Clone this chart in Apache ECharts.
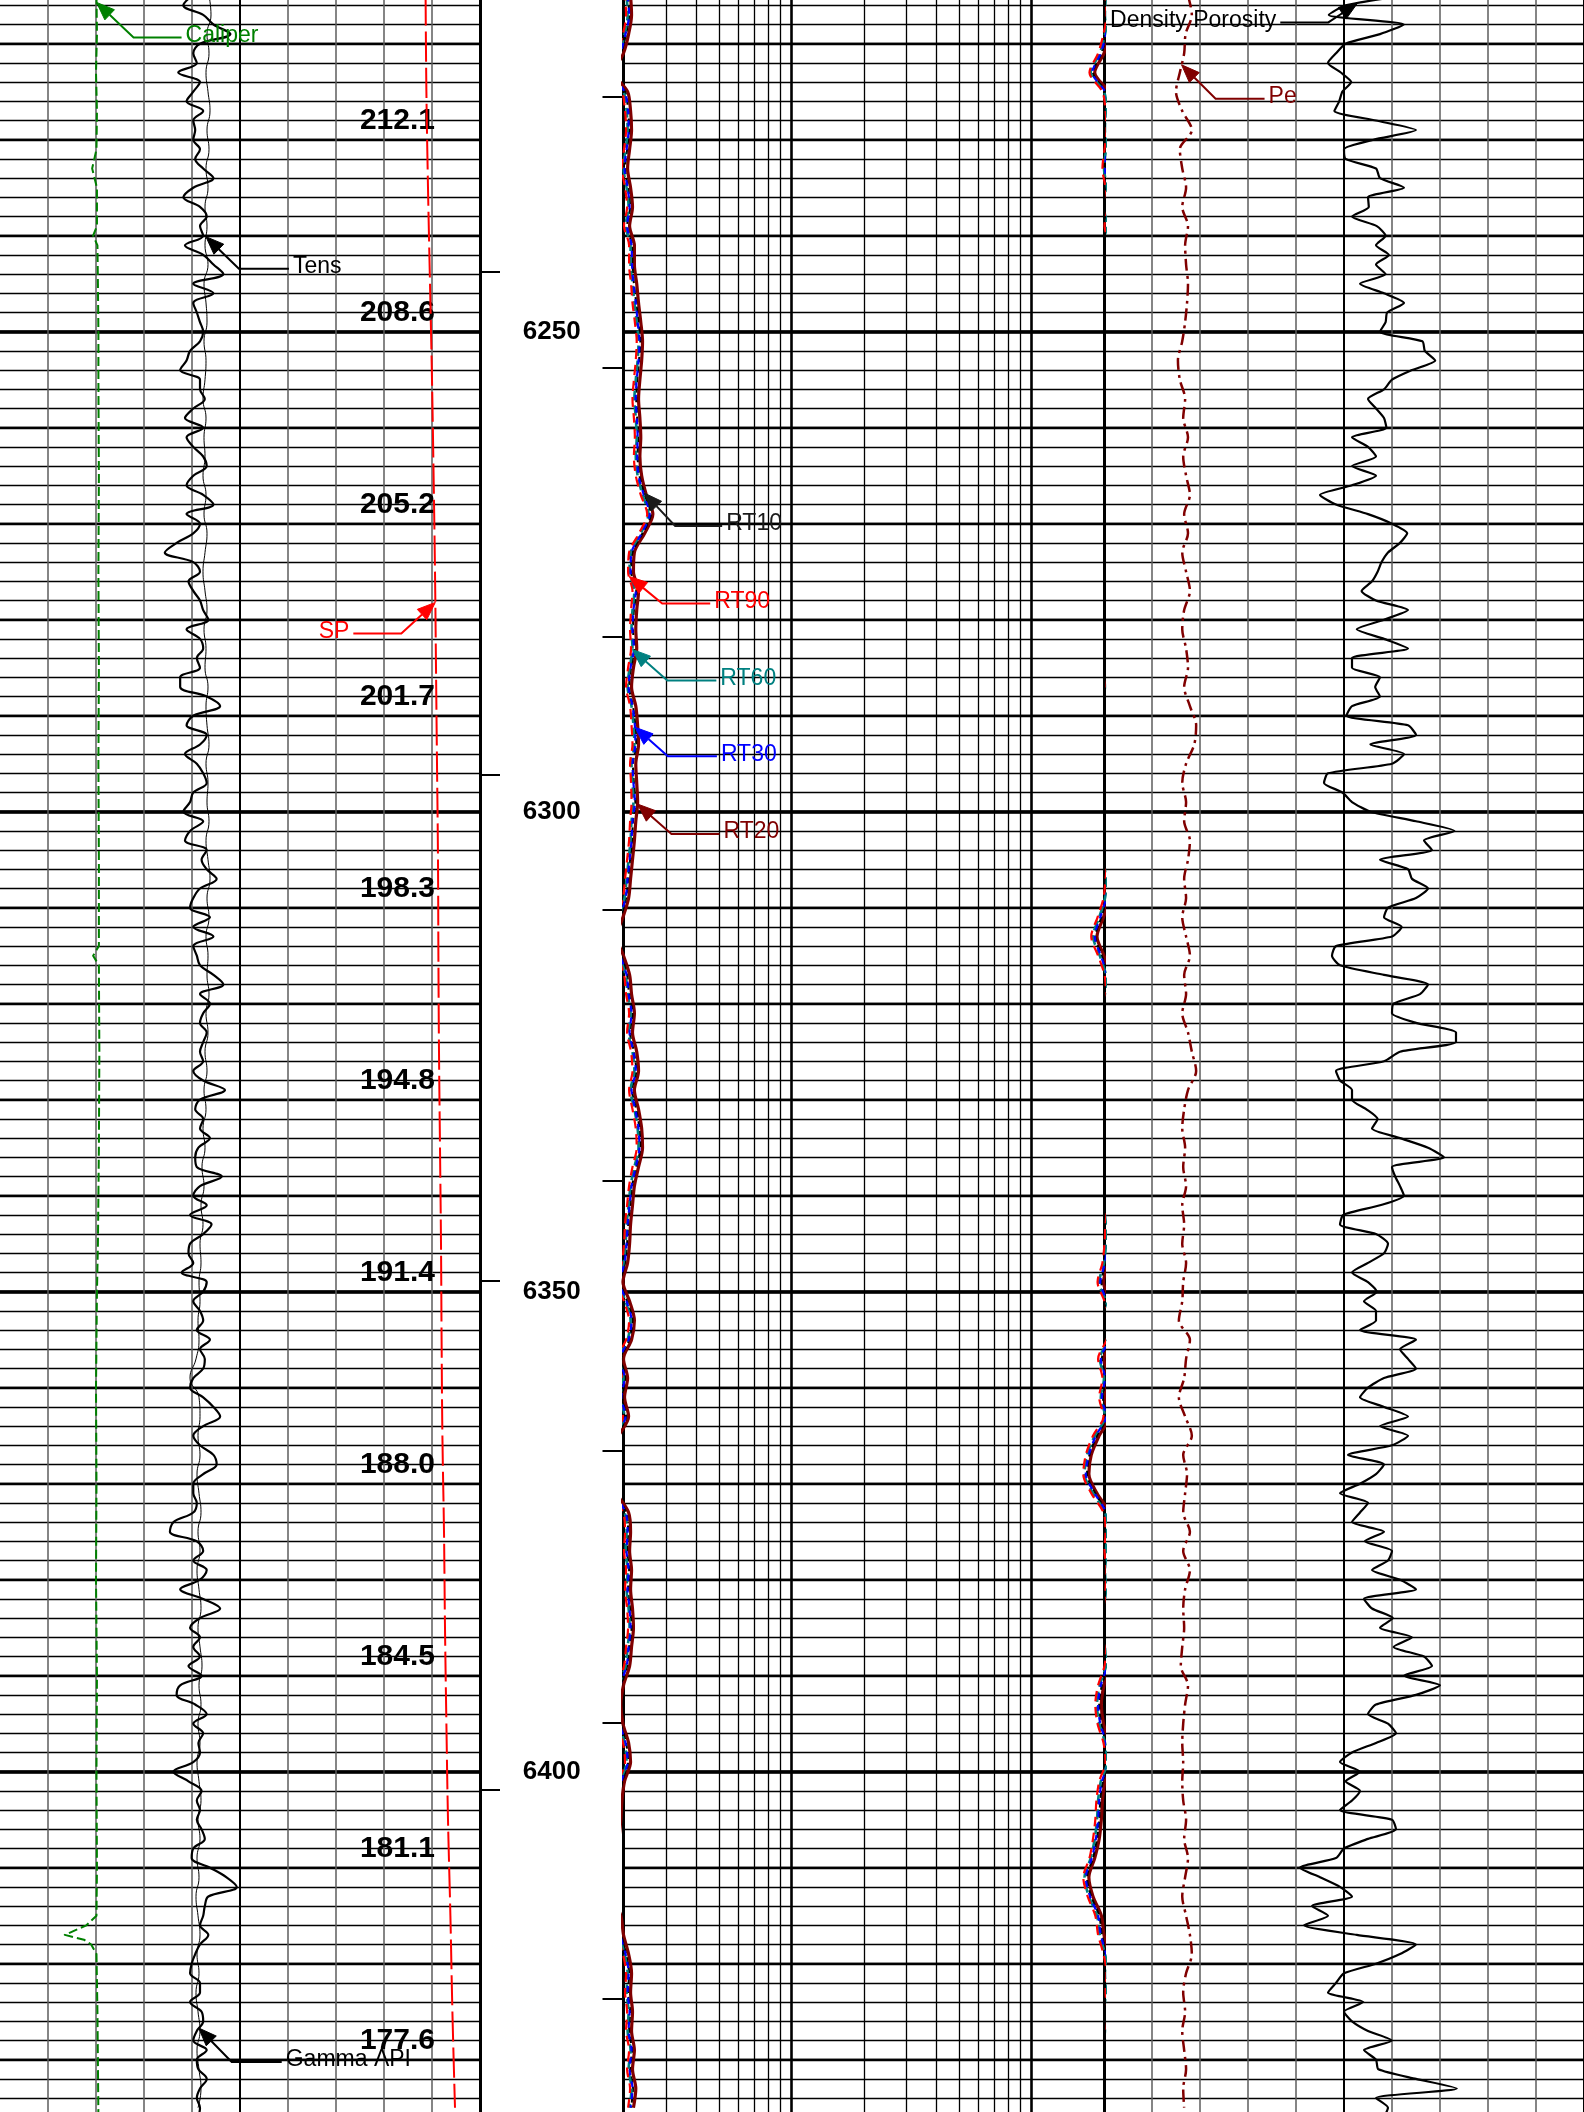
<!DOCTYPE html>
<html>
<head>
<meta charset="utf-8">
<title>Well log 6215–6435 ft</title>
<script src="https://cdn.jsdelivr.net/npm/echarts@6.0.0/dist/echarts.min.js"></script>
<style>
  html, body { margin: 0; padding: 0; background: #fff; }
  #chart { width: 1584px; height: 2112px; }
</style>
</head>
<body>
<div id="chart"></div>
<script>
// ---------------------------------------------------------------------------
// Log data (depth in ft)
// ---------------------------------------------------------------------------

// 1-ft sampled curves: 6215 ... 6436
const depth1 = [];
for (let d = 6215; d <= 6436; d++) depth1.push(d);

// 2-ft sampled curves: 6215 ... 6435
const depth2 = [];
for (let d = 6215; d <= 6435; d += 2) depth2.push(d);

// Gamma ray, API (track 1, 0–150)
const gammaApi = [
  60.0, 57.3, 63.5, 66.7, 72.0, 62.5, 60.4, 61.5, 55.7, 62.5,
  60.4, 58.3, 63.5, 60.4, 61.0, 60.4, 62.5, 61.0, 63.5, 66.7,
  60.4, 57.3, 62.5, 64.6, 62.5, 63.5, 57.8, 63.5, 66.7, 69.8,
  60.4, 66.7, 60.4, 61.5, 62.5, 63.5, 62.5, 59.4, 58.3, 56.3,
  62.5, 62.5, 64.0, 60.4, 57.8, 63.5, 58.3, 60.4, 63.5, 64.6,
  60.4, 58.3, 63.5, 66.7, 58.3, 62.5, 60.4, 55.2, 51.5, 60.4,
  62.5, 58.9, 60.4, 62.5, 63.5, 65.1, 58.3, 62.5, 63.5, 61.5,
  62.5, 56.3, 56.3, 64.6, 68.8, 60.4, 58.3, 64.6, 62.5, 57.8,
  61.5, 63.5, 64.6, 60.4, 59.4, 57.3, 63.5, 59.4, 57.8, 64.6,
  63.0, 64.6, 67.7, 62.5, 60.4, 59.4, 65.6, 60.4, 66.7, 60.4,
  61.5, 62.5, 66.7, 69.8, 62.5, 65.6, 63.5, 62.5, 64.6, 63.5,
  62.5, 63.5, 60.4, 63.5, 70.3, 62.5, 61.0, 63.5, 62.5, 65.6,
  62.0, 61.0, 61.5, 69.3, 62.5, 60.4, 64.6, 59.4, 66.1, 63.5,
  59.4, 58.9, 60.4, 56.8, 64.6, 63.5, 60.4, 62.5, 63.5, 61.5,
  65.6, 62.5, 64.0, 63.5, 60.4, 59.4, 63.5, 66.7, 68.8, 63.5,
  60.4, 62.5, 66.7, 67.7, 63.5, 60.4, 60.4, 61.5, 60.4, 54.2,
  53.1, 61.5, 63.5, 60.4, 64.6, 62.5, 56.3, 63.5, 68.8, 62.5,
  59.4, 62.5, 60.4, 62.5, 58.9, 63.0, 56.3, 55.2, 61.0, 64.6,
  60.4, 63.5, 62.0, 62.5, 60.4, 54.2, 58.9, 63.0, 61.5, 62.5,
  61.5, 63.0, 64.0, 60.4, 59.9, 65.6, 70.8, 74.0, 65.1, 64.0,
  63.5, 62.5, 65.1, 62.5, 61.0, 59.9, 59.4, 62.5, 62.5, 59.4,
  63.0, 63.5, 61.5, 60.4, 64.6, 61.5, 62.0, 64.6, 62.5, 61.5,
  62.5, 62.0
];

// Density porosity, v/v (track 3, 0.45 … -0.15)
const densityPorosity = [
  0.075, 0.148, 0.169, 0.075, 0.105, 0.148, 0.160, 0.170, 0.154, 0.141,
  0.152, 0.156, 0.162, 0.110, 0.060, 0.113, 0.150, 0.148, 0.110, 0.105,
  0.075, 0.120, 0.119, 0.140, 0.109, 0.098, 0.110, 0.094, 0.110, 0.098,
  0.130, 0.100, 0.075, 0.096, 0.098, 0.105, 0.052, 0.049, 0.036, 0.065,
  0.090, 0.100, 0.120, 0.110, 0.100, 0.097, 0.140, 0.120, 0.110, 0.140,
  0.110, 0.140, 0.180, 0.160, 0.120, 0.090, 0.071, 0.080, 0.095, 0.103,
  0.108, 0.115, 0.128, 0.110, 0.070, 0.100, 0.134, 0.100, 0.070, 0.140,
  0.140, 0.105, 0.111, 0.105, 0.140, 0.147, 0.070, 0.060, 0.117, 0.075,
  0.090, 0.170, 0.175, 0.152, 0.140, 0.117, 0.060, 0.012, 0.050, 0.040,
  0.105, 0.070, 0.065, 0.045, 0.060, 0.095, 0.100, 0.078, 0.090, 0.160,
  0.165, 0.155, 0.100, 0.045, 0.055, 0.088, 0.090, 0.060, 0.010, 0.010,
  0.080, 0.100, 0.160, 0.155, 0.140, 0.140, 0.122, 0.108, 0.115, 0.080,
  0.045, 0.025, 0.090, 0.086, 0.080, 0.075, 0.105, 0.151, 0.155, 0.110,
  0.095, 0.100, 0.120, 0.140, 0.120, 0.109, 0.125, 0.110, 0.110, 0.130,
  0.060, 0.080, 0.070, 0.060, 0.100, 0.120, 0.130, 0.100, 0.070, 0.105,
  0.070, 0.090, 0.145, 0.100, 0.110, 0.130, 0.155, 0.120, 0.130, 0.140,
  0.100, 0.124, 0.090, 0.095, 0.115, 0.080, 0.060, 0.125, 0.115, 0.089,
  0.105, 0.065, 0.088, 0.050, 0.040, 0.075, 0.030, 0.060, 0.110, 0.120,
  0.095, 0.085, 0.110, 0.140, 0.155, 0.130, 0.148, 0.130, 0.140, 0.155,
  0.090, 0.085, 0.120, 0.150, 0.160, 0.205, 0.180, 0.155, 0.140, 0.190,
  0.170, 0.200, 0.134, 0.060, 0.080, 0.110, 0.150, 0.160, 0.170, 0.126,
  0.150, 0.140, 0.120, 0.090, 0.125, 0.110, 0.107, 0.060, 0.009, 0.110,
  0.095, 0.100
];

// Cable tension, lb (track 1, 0–12000)
const tensLb = [
  5225, 5275, 5175, 5225, 5150, 5200, 5250, 5175, 5225, 5150,
  5200, 5125, 5175, 5125, 5200, 5100, 5150, 5175, 5100, 5150,
  5125, 5075, 5150, 5100, 5125, 5075, 5150, 5100, 5175, 5125,
  5075, 5125, 5175, 5100, 5150, 5125, 5200, 5150, 5175, 5225,
  5150, 5200, 5175, 5225, 5150, 5200, 5250, 5175, 5225, 5150,
  5200, 5175, 5225, 5150, 5200, 5125, 5175, 5100, 5150, 5075,
  5125, 5050, 5100, 5025, 5075, 5000, 5025, 4975, 5000, 4950,
  4975, 4900, 4750, 4975, 5000, 4950, 5000, 4925, 4975, 5025,
  4950, 5000, 4925, 4975, 5025, 4950, 5000, 5050, 4975, 5025,
  4950, 5000, 4925, 4975, 5025, 4950, 5000, 4925, 4975, 4900,
  4950, 5000, 4925, 4975, 4900, 4950, 5000, 4925, 4975, 5025,
  4950
];

// Photoelectric factor, b/e (track 3, 0–10)
const peBarns = [
  1.75, 1.83, 1.70, 1.67, 1.58, 1.50, 1.63, 1.83, 1.58, 1.63,
  1.71, 1.63, 1.75, 1.69, 1.71, 1.75, 1.73, 1.69, 1.63, 1.54,
  1.58, 1.69, 1.65, 1.75, 1.65, 1.71, 1.79, 1.67, 1.75, 1.63,
  1.71, 1.79, 1.67, 1.63, 1.71, 1.75, 1.67, 1.79, 1.92, 1.88,
  1.71, 1.63, 1.71, 1.67, 1.79, 1.75, 1.67, 1.71, 1.63, 1.71,
  1.79, 1.67, 1.71, 1.63, 1.75, 1.83, 1.92, 1.75, 1.67, 1.63,
  1.69, 1.65, 1.71, 1.63, 1.67, 1.63, 1.71, 1.65, 1.63, 1.56,
  1.79, 1.71, 1.67, 1.56, 1.69, 1.83, 1.65, 1.73, 1.69, 1.65,
  1.79, 1.65, 1.79, 1.69, 1.65, 1.67, 1.63, 1.60, 1.75, 1.69,
  1.65, 1.63, 1.65, 1.63, 1.65, 1.71, 1.67, 1.75, 1.69, 1.63,
  1.71, 1.79, 1.83, 1.71, 1.65, 1.69, 1.63, 1.67, 1.71, 1.65,
  1.67
];

// Array induction resistivities, ohm·m (track 2, log 0.2–20)
const rt10 = [
  0.209, 0.211, 0.205, 0.195, 0.180, 0.203, 0.209, 0.211, 0.207, 0.203,
  0.209, 0.213, 0.207, 0.217, 0.218, 0.221, 0.226, 0.231, 0.235, 0.232,
  0.228, 0.226, 0.228, 0.230, 0.229, 0.233, 0.245, 0.260, 0.240, 0.218,
  0.215, 0.226, 0.221, 0.219, 0.222, 0.215, 0.211, 0.219, 0.224, 0.226,
  0.219, 0.221, 0.224, 0.219, 0.217, 0.213, 0.209, 0.205, 0.195, 0.184,
  0.196, 0.207, 0.211, 0.218, 0.213, 0.221, 0.226, 0.217, 0.226, 0.233,
  0.235, 0.226, 0.217, 0.213, 0.209, 0.207, 0.203, 0.195, 0.207, 0.218,
  0.211, 0.196, 0.203, 0.198, 0.205, 0.187, 0.174, 0.170, 0.184, 0.205,
  0.209, 0.207, 0.211, 0.209, 0.213, 0.216, 0.211, 0.207, 0.196, 0.191,
  0.195, 0.205, 0.209, 0.198, 0.193, 0.191, 0.187, 0.180, 0.170, 0.177,
  0.191, 0.196, 0.205, 0.211, 0.209, 0.213, 0.211, 0.217, 0.213, 0.219,
  0.215
];
const rt20 = [
  0.214, 0.216, 0.210, 0.200, 0.183, 0.208, 0.214, 0.216, 0.212, 0.208,
  0.214, 0.218, 0.212, 0.222, 0.222, 0.227, 0.231, 0.236, 0.240, 0.238,
  0.234, 0.231, 0.234, 0.236, 0.234, 0.238, 0.249, 0.265, 0.245, 0.222,
  0.220, 0.231, 0.227, 0.225, 0.227, 0.220, 0.216, 0.225, 0.229, 0.231,
  0.225, 0.227, 0.229, 0.225, 0.222, 0.218, 0.214, 0.210, 0.199, 0.187,
  0.200, 0.212, 0.216, 0.222, 0.218, 0.227, 0.231, 0.222, 0.231, 0.238,
  0.240, 0.231, 0.222, 0.218, 0.214, 0.212, 0.208, 0.199, 0.212, 0.222,
  0.216, 0.200, 0.208, 0.202, 0.210, 0.191, 0.177, 0.173, 0.187, 0.210,
  0.214, 0.212, 0.216, 0.214, 0.218, 0.220, 0.216, 0.212, 0.200, 0.195,
  0.199, 0.210, 0.214, 0.202, 0.197, 0.195, 0.191, 0.183, 0.173, 0.180,
  0.195, 0.200, 0.210, 0.216, 0.214, 0.218, 0.216, 0.222, 0.218, 0.225,
  0.220
];
const rt30 = [
  0.208, 0.211, 0.204, 0.194, 0.179, 0.202, 0.209, 0.210, 0.206, 0.202,
  0.208, 0.212, 0.207, 0.216, 0.217, 0.220, 0.225, 0.229, 0.233, 0.231,
  0.227, 0.225, 0.227, 0.229, 0.228, 0.231, 0.243, 0.257, 0.238, 0.216,
  0.214, 0.225, 0.220, 0.218, 0.221, 0.214, 0.210, 0.218, 0.223, 0.224,
  0.218, 0.220, 0.223, 0.218, 0.216, 0.212, 0.208, 0.204, 0.193, 0.183,
  0.194, 0.206, 0.210, 0.216, 0.212, 0.220, 0.225, 0.216, 0.224, 0.231,
  0.233, 0.225, 0.216, 0.212, 0.208, 0.206, 0.202, 0.193, 0.206, 0.216,
  0.210, 0.194, 0.202, 0.196, 0.204, 0.185, 0.173, 0.168, 0.183, 0.204,
  0.208, 0.206, 0.210, 0.208, 0.212, 0.214, 0.210, 0.206, 0.194, 0.189,
  0.193, 0.204, 0.208, 0.196, 0.191, 0.189, 0.185, 0.178, 0.168, 0.175,
  0.189, 0.194, 0.204, 0.210, 0.208, 0.212, 0.210, 0.216, 0.212, 0.218,
  0.214
];
const rt60 = [
  0.206, 0.208, 0.202, 0.192, 0.176, 0.200, 0.206, 0.208, 0.204, 0.200,
  0.206, 0.210, 0.204, 0.214, 0.214, 0.218, 0.222, 0.227, 0.231, 0.229,
  0.225, 0.222, 0.225, 0.227, 0.225, 0.229, 0.240, 0.254, 0.236, 0.214,
  0.212, 0.222, 0.218, 0.216, 0.218, 0.212, 0.208, 0.216, 0.220, 0.222,
  0.216, 0.218, 0.220, 0.216, 0.214, 0.210, 0.206, 0.202, 0.191, 0.180,
  0.192, 0.204, 0.208, 0.214, 0.210, 0.218, 0.222, 0.214, 0.222, 0.229,
  0.231, 0.222, 0.214, 0.210, 0.206, 0.204, 0.200, 0.191, 0.204, 0.214,
  0.208, 0.192, 0.200, 0.194, 0.202, 0.183, 0.170, 0.166, 0.180, 0.202,
  0.206, 0.204, 0.208, 0.206, 0.210, 0.212, 0.208, 0.204, 0.192, 0.187,
  0.191, 0.202, 0.206, 0.194, 0.189, 0.187, 0.183, 0.176, 0.166, 0.173,
  0.187, 0.192, 0.202, 0.208, 0.206, 0.210, 0.208, 0.214, 0.210, 0.216,
  0.212
];
const rt90 = [
  0.203, 0.205, 0.199, 0.189, 0.174, 0.197, 0.203, 0.205, 0.201, 0.197,
  0.203, 0.207, 0.201, 0.211, 0.211, 0.215, 0.218, 0.223, 0.227, 0.225,
  0.221, 0.218, 0.221, 0.223, 0.221, 0.225, 0.236, 0.251, 0.232, 0.211,
  0.209, 0.218, 0.215, 0.213, 0.215, 0.209, 0.205, 0.213, 0.216, 0.218,
  0.213, 0.215, 0.216, 0.213, 0.211, 0.207, 0.203, 0.199, 0.188, 0.177,
  0.189, 0.201, 0.205, 0.211, 0.207, 0.215, 0.218, 0.211, 0.218, 0.225,
  0.227, 0.218, 0.211, 0.207, 0.203, 0.201, 0.197, 0.188, 0.201, 0.211,
  0.205, 0.189, 0.197, 0.191, 0.199, 0.180, 0.168, 0.164, 0.177, 0.199,
  0.203, 0.201, 0.205, 0.203, 0.207, 0.209, 0.205, 0.201, 0.189, 0.184,
  0.188, 0.199, 0.203, 0.191, 0.186, 0.184, 0.180, 0.174, 0.164, 0.171,
  0.184, 0.189, 0.199, 0.205, 0.203, 0.207, 0.205, 0.211, 0.207, 0.213,
  0.209
];

// Caliper, in (track 1, 6–16)
const caliperDepth = [6215, 6219, 6223, 6227, 6231, 6233, 6235, 6239, 6240, 6241,
  6245, 6250, 6255, 6265, 6275, 6285, 6295, 6305, 6314, 6315,
  6316, 6325, 6335, 6345, 6350, 6360, 6370, 6380, 6390, 6400,
  6410, 6415, 6416, 6417, 6417.5, 6418, 6419, 6425, 6436];
const caliperIn = [8.01, 8.02, 8.00, 8.02, 8.01, 7.92, 8.02, 8.02, 7.94, 8.03,
  8.04, 8.05, 8.05, 8.06, 8.05, 8.06, 8.05, 8.06, 8.06, 7.94,
  8.06, 8.07, 8.06, 8.04, 8.02, 8.00, 8.01, 8.00, 8.02, 8.01,
  8.02, 8.01, 7.80, 7.35, 7.75, 7.90, 8.01, 8.03, 8.05];

// Spontaneous potential, mV (track 1, -120–0)
const spDepth = [6215, 6225, 6235, 6245, 6255, 6265, 6275, 6285, 6295, 6305,
  6315, 6325, 6335, 6345, 6355, 6365, 6375, 6385, 6395, 6405,
  6415, 6425, 6435];
const spMv = [-13.6, -13.4, -13.0, -12.5, -12.0, -11.6, -11.25, -11.0, -10.75, -10.5,
  -10.4, -10.25, -10.0, -9.75, -9.6, -9.4, -9.0, -8.75, -8.4, -8.0,
  -7.4, -6.9, -6.25];

// Depth-track annotations
const depthLabelStep = 50;
const scaleLabels = ['212.1', '208.6', '205.2', '201.7', '198.3', '194.8', '191.4', '188.0', '184.5', '181.1', '177.6'];
const scaleLabelDepths = [6228.05, 6248.05, 6268.05, 6288.05, 6308.05, 6328.05, 6348.05, 6368.05, 6388.05, 6408.05, 6428.05];
const leftTickDepths = [6243.8, 6296.1, 6348.9, 6401.9];
const rightTickDepths = [6225.5, 6253.75, 6281.8, 6310.2, 6338.4, 6366.6, 6394.9, 6423.7];

// Resistivity grid values (log track)
const rtMinorLines = [0.3, 0.4, 0.5, 0.6, 0.7, 0.8, 0.9, 2, 3, 4, 5, 6, 7, 8, 9];
const rtDecadeLines = [1, 10];

// ---------------------------------------------------------------------------
// Layout
// ---------------------------------------------------------------------------
const FONT = "'Liberation Sans', Arial, Helvetica, sans-serif";
const DEPTH_MIN = 6200, DEPTH_MAX = 6450;
const GRID_TOP = -148.3, GRID_H = 2400;     // 9.6 px per ft
const TRACKS = {
  t1: { left: 0, width: 480 },
  dt: { left: 480, width: 143.5 },
  t2: { left: 623.5, width: 480.5 },
  t3: { left: 1104, width: 480 }
};
const GRID_GREY = '#5c5c5c';

function pairs(depths, values, k) {
  return depths.map((d, i) => [values[i] * (k || 1), d]);
}

function depthAxis(id, gridIndex, interval, width, extra) {
  return Object.assign({
    id, gridIndex, type: 'value', inverse: true,
    min: DEPTH_MIN, max: DEPTH_MAX, interval,
    axisLine: { show: false }, axisTick: { show: false }, axisLabel: { show: false },
    splitLine: { show: width > 0, lineStyle: { color: '#000', width } }
  }, extra || {});
}

function gridXAxis(id, gridIndex, interval, color, width, extra) {
  return Object.assign({
    id, gridIndex, type: 'value', min: 0, max: 10, interval,
    axisLine: { show: false }, axisTick: { show: false }, axisLabel: { show: false },
    splitLine: { show: true, lineStyle: { color, width } }
  }, extra || {});
}

function dataXAxis(id, gridIndex, min, max, extra) {
  return Object.assign({ id, gridIndex, type: 'value', min, max, show: false }, extra || {});
}

const yAxes = [];
[0, 2, 3].forEach(g => {
  yAxes.push(depthAxis('y' + g + 'a', g, 2, 1.3));
  yAxes.push(depthAxis('y' + g + 'b', g, 10, 2.3));
  yAxes.push(depthAxis('y' + g + 'c', g, 50, 3.6));
});

// secondary scale labels along the right edge of track 1
yAxes.push(depthAxis('scaleAxis', 0, null, 0, {
  interval: undefined, position: 'right',
  axisTick: { show: true, inside: true, length: 41, customValues: scaleLabelDepths, lineStyle: { color: '#000', width: 2 } },
  axisLabel: {
    show: true, inside: true, margin: 45, customValues: scaleLabelDepths,
    fontFamily: FONT, fontSize: 30, fontWeight: 'bold', color: '#000',
    formatter: v => {
      let best = 0;
      scaleLabelDepths.forEach((d, i) => { if (Math.abs(d - v) < Math.abs(scaleLabelDepths[best] - v)) best = i; });
      return scaleLabels[best];
    }
  }
}));

// depth track: labels and tick marks
yAxes.push(depthAxis('depthLabels', 1, depthLabelStep, 0, {
  position: 'left',
  axisLabel: {
    show: true, inside: true, margin: 71.75, align: 'center',
    fontFamily: FONT, fontSize: 26, fontWeight: 'bold', color: '#000',
    formatter: v => String(v)
  }
}));
yAxes.push(depthAxis('depthTicksL', 1, null, 0, {
  interval: undefined, position: 'left',
  axisTick: { show: true, inside: true, length: 20, customValues: leftTickDepths, lineStyle: { color: '#000', width: 2 } }
}));
yAxes.push(depthAxis('depthTicksR', 1, null, 0, {
  interval: undefined, position: 'right',
  axisTick: { show: true, inside: true, length: 21, customValues: rightTickDepths, lineStyle: { color: '#000', width: 2 } }
}));

const xAxes = [
  // track 1 grid
  gridXAxis('x1a', 0, 1, GRID_GREY, 1.5, { splitLine: { show: true, showMinLine: false, lineStyle: { color: GRID_GREY, width: 1.5 } } }),
  gridXAxis('x1b', 0, 5, '#000', 2, { splitLine: { show: true, showMinLine: false, showMaxLine: false, lineStyle: { color: '#000', width: 2 } } }),
  gridXAxis('x1c', 0, 10, '#000', 3, { splitLine: { show: true, showMinLine: false, lineStyle: { color: '#000', width: 3 } } }),
  // track 1 curves
  dataXAxis('xGamma', 0, 0, 150),
  dataXAxis('xCal', 0, 6, 16),
  dataXAxis('xTens', 0, 0, 12000),
  dataXAxis('xSP', 0, -120, 0),
  // depth track borders
  { id: 'xDepth', gridIndex: 1, type: 'value', min: 0, max: 1, interval: 1,
    axisLine: { show: false }, axisTick: { show: false }, axisLabel: { show: false },
    splitLine: { show: true, lineStyle: { color: '#000', width: 3 } } },
  // track 2 resistivity (log)
  { id: 'xRT', gridIndex: 2, type: 'log', logBase: 10, min: 0.2, max: 20, show: false },
  // track 3 grid
  gridXAxis('x3a', 3, 1, GRID_GREY, 1.5, { splitLine: { show: true, showMinLine: false, showMaxLine: false, lineStyle: { color: GRID_GREY, width: 1.5 } } }),
  gridXAxis('x3b', 3, 5, '#000', 2, { splitLine: { show: true, showMinLine: false, showMaxLine: false, lineStyle: { color: '#000', width: 2 } } }),
  gridXAxis('x3c', 3, 10, '#000', 3),
  // track 3 curves
  dataXAxis('xDphi', 3, -0.15, 0.45, { inverse: true }),
  dataXAxis('xPe', 3, 0, 10)
];

function curve(id, xAxisId, yAxisId, data, lineStyle, extra) {
  return Object.assign({
    id, type: 'line', xAxisId, yAxisId, data,
    showSymbol: false, symbol: 'none', silent: true, clip: true,
    lineStyle: Object.assign({ cap: 'butt', join: 'round' }, lineStyle)
  }, extra || {});
}

const rtCurves = [
  { id: 'rt20', values: rt20, style: { color: '#800000', width: 3.2 }, z: 3 },
  { id: 'rt10', values: rt10, style: { color: '#000000', width: 2, type: [6, 4] }, z: 4 },
  { id: 'rt60', values: rt60, style: { color: '#008080', width: 2.6, type: [10, 5] }, z: 5 },
  { id: 'rt30', values: rt30, style: { color: '#0000ff', width: 2.2, type: [6, 6] }, z: 6 },
  { id: 'rt90', values: rt90, style: { color: '#ff0000', width: 2.2, type: [10, 6], dashOffset: 5 }, z: 7 }
];

const series = [
  // track 1
  curve('caliper', 'xCal', 'y0a', pairs(caliperDepth, caliperIn), { color: '#008000', width: 2, type: [9, 4] }, { z: 5 }),
  curve('tens', 'xTens', 'y0a', pairs(depth2, tensLb), { color: '#000', width: 1 }, { smooth: 0.5, z: 5 }),
  curve('gamma', 'xGamma', 'y0a', pairs(depth1, gammaApi), { color: '#000', width: 2.2 }, { smooth: 0.35, z: 6 }),
  curve('sp', 'xSP', 'y0a', pairs(spDepth, spMv), { color: '#ff0000', width: 2, type: [30, 6] }, { smooth: 0.4, z: 5 }),
  // track 2 grid lines
  {
    id: 'rtGrid', type: 'line', xAxisId: 'xRT', yAxisId: 'y2a', data: [[1, DEPTH_MIN]],
    showSymbol: false, symbol: 'none', silent: true, lineStyle: { opacity: 0 }, z: 1,
    markLine: {
      silent: true, symbol: ['none', 'none'], animation: false,
      label: { show: false },
      data: rtMinorLines.map(v => ({ xAxis: v, lineStyle: { color: '#000', width: 1.3, type: 'solid' } }))
        .concat(rtDecadeLines.map(v => ({ xAxis: v, lineStyle: { color: '#000', width: 2.6, type: 'solid' } })))
    }
  },
  // track 3
  curve('pe', 'xPe', 'y3a', pairs(depth2, peBarns), { color: '#800000', width: 2.5, type: [12, 5, 3, 5] }, { smooth: 0.3, z: 5 }),
  curve('dphi', 'xDphi', 'y3a', pairs(depth1, densityPorosity), { color: '#000', width: 2.2 }, { smooth: 0.2, z: 6 })
];

// resistivities: main scale plus wrapped (x100) backup scale in the same track
rtCurves.forEach(c => {
  series.push(curve(c.id, 'xRT', 'y2a', pairs(depth2, c.values), c.style, { smooth: 0.3, z: c.z }));
  series.push(curve(c.id + 'Wrap', 'xRT', 'y2a', pairs(depth2, c.values, 100), c.style, { smooth: 0.3, z: c.z }));
});

const chart = echarts.init(document.getElementById('chart'), null, { renderer: 'canvas' });
chart.setOption({
  backgroundColor: '#ffffff',
  animation: false,
  grid: Object.keys(TRACKS).map(k => ({
    id: k, left: TRACKS[k].left, width: TRACKS[k].width, top: GRID_TOP, height: GRID_H,
    outerBoundsMode: 'none', containLabel: false
  })),
  xAxis: xAxes,
  yAxis: yAxes,
  series
});

// ---------------------------------------------------------------------------
// Curve call-outs (arrow from the curve, leader, name)
// ---------------------------------------------------------------------------
const curveSource = {
  caliper: [caliperDepth, caliperIn], tens: [depth2, tensLb], gamma: [depth1, gammaApi], sp: [spDepth, spMv],
  rt10: [depth2, rt10], rt20: [depth2, rt20], rt30: [depth2, rt30], rt60: [depth2, rt60], rt90: [depth2, rt90],
  pe: [depth2, peBarns], dphi: [depth1, densityPorosity]
};

const callouts = [
  { text: 'Caliper', series: 'caliper', depth: 6215.7, color: '#008000', dx: 37, dy: 35, run: 48 },
  { text: 'Tens', series: 'tens', depth: 6240.1, color: '#000000', dx: 33, dy: 32, run: 50 },
  { text: 'Gamma API', series: 'gamma', depth: 6426.7, color: '#000000', dx: 33, dy: 34, run: 50 },
  { text: 'SP', series: 'sp', depth: 6278.2, color: '#ff0000', dx: -34, dy: 31, run: -48 },
  { text: 'RT10', series: 'rt10', depth: 6266.8, color: '#1a1a1a', dx: 31, dy: 33, run: 47 },
  { text: 'RT90', series: 'rt90', depth: 6275.5, color: '#ff0000', dx: 33, dy: 27, run: 48 },
  { text: 'RT60', series: 'rt60', depth: 6283.1, color: '#008080', dx: 35, dy: 31, run: 49 },
  { text: 'RT30', series: 'rt30', depth: 6291.2, color: '#0000ff', dx: 33, dy: 29, run: 49 },
  { text: 'RT20', series: 'rt20', depth: 6299.2, color: '#800000', dx: 34, dy: 30, run: 48 },
  { text: 'Density Porosity', series: 'dphi', depth: 6215.8, color: '#000000', dx: -29, dy: 19, run: -48 },
  { text: 'Pe', series: 'pe', depth: 6222.2, color: '#800000', dx: 34, dy: 34, run: 49 }
];

function valueAt(depths, values, d) {
  for (let i = 0; i < depths.length - 1; i++) {
    if (d >= depths[i] && d <= depths[i + 1]) {
      const t = (d - depths[i]) / (depths[i + 1] - depths[i]);
      return values[i] + t * (values[i + 1] - values[i]);
    }
  }
  return values[d < depths[0] ? 0 : values.length - 1];
}

const graphics = [];
callouts.forEach(c => {
  const src = curveSource[c.series];
  const v = valueAt(src[0], src[1], c.depth);
  const tip = chart.convertToPixel({ seriesId: c.series }, [v, c.depth]);
  const elbow = [tip[0] + c.dx, tip[1] + c.dy];
  const end = [elbow[0] + c.run, elbow[1]];
  const ux = elbow[0] - tip[0], uy = elbow[1] - tip[1];
  const len = Math.hypot(ux, uy);
  const nx = ux / len, ny = uy / len;
  const headLen = 18, headHalf = 7;
  const bx = tip[0] + nx * headLen, by = tip[1] + ny * headLen;
  graphics.push({
    type: 'polyline', silent: true, z: 100,
    shape: { points: [[bx, by], elbow, end] },
    style: { stroke: c.color, lineWidth: 2, fill: null }
  });
  graphics.push({
    type: 'polygon', silent: true, z: 100,
    shape: { points: [tip, [bx - ny * headHalf, by + nx * headHalf], [bx + ny * headHalf, by - nx * headHalf]] },
    style: { fill: c.color, stroke: c.color, lineWidth: 1 }
  });
  const right = c.run > 0;
  graphics.push({
    type: 'text', silent: true, z: 100,
    x: end[0] + (right ? 4 : -4), y: elbow[1] - 2,
    style: {
      text: c.text, fill: c.color, font: '23px ' + FONT,
      align: right ? 'left' : 'right', verticalAlign: 'middle',
      textAlign: right ? 'left' : 'right', textVerticalAlign: 'middle'
    }
  });
});
chart.setOption({ graphic: { elements: graphics } });
</script>
</body>
</html>
